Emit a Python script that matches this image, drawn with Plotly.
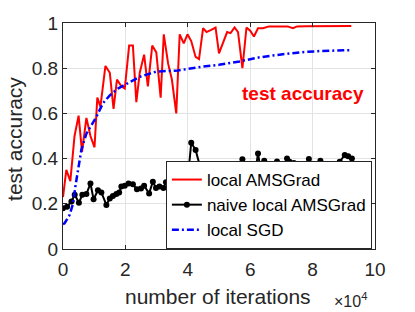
import plotly.graph_objects as go

# x in units of 1e4 iterations
red_x = [0,0.107,0.235,0.37,0.5,0.61,0.75,0.88,1.01,1.1,1.2,1.36,1.5,1.62,1.73,1.87,1.98,2.12,2.24,2.35,2.46,2.6,2.72,2.86,2.99,3.13,3.23,3.37,3.49,3.63,3.74,3.87,3.99,4.11,4.25,4.36,4.49,4.6,4.75,4.89,5.0,5.13,5.26,5.37,5.5,5.61,5.66,5.75,5.82,5.88,6.0,6.12,6.25,6.41,6.6,6.8,7.0,7.2,7.37,7.5,7.8,8.0,8.3,8.6,8.9,9.24]
red_y = [0.23,0.35,0.30,0.50,0.59,0.43,0.58,0.50,0.45,0.67,0.63,0.81,0.78,0.62,0.75,0.72,0.71,0.90,0.90,0.65,0.78,0.86,0.72,0.90,0.87,0.67,0.95,0.82,0.75,0.60,0.95,0.91,0.95,0.92,0.85,0.84,0.977,0.96,0.97,0.98,0.866,0.91,0.96,0.955,0.98,0.96,0.895,0.80,0.895,0.98,0.966,0.94,0.977,0.977,0.985,0.985,0.985,0.985,0.977,0.985,0.986,0.986,0.987,0.987,0.987,0.987]

black_x = [0,0.13,0.27,0.375,0.51,0.62,0.75,0.88,0.98,1.12,1.23,1.39,1.5,1.6,1.71,1.8,1.87,1.98,2.1,2.24,2.37,2.5,2.6,2.76,2.88,2.98,3.09,3.22,3.3,
           3.47,3.58,3.7,3.85,3.98,4.11,4.25,4.38,4.52,4.65,4.76,4.86,4.97,5.08,5.18,5.28,5.38,5.48,5.6,5.75,5.86,5.96,6.1,6.25,6.36,6.45,6.55,6.7,6.86,6.98,7.08,7.18,7.26,7.4,7.52,7.64,7.78,7.88,8.01,8.13,8.25,8.4,8.55,8.7,8.76,8.87,9.03,9.14,9.26]
black_y = [0.18,0.187,0.21,0.24,0.205,0.24,0.243,0.29,0.22,0.26,0.25,0.195,0.224,0.235,0.243,0.25,0.276,0.28,0.29,0.286,0.264,0.268,0.28,0.246,0.298,0.27,0.277,0.27,0.295,
           0.313,0.317,0.29,0.27,0.28,0.47,0.438,0.367,0.30,0.345,0.364,0.36,0.335,0.355,0.30,0.357,0.364,0.335,0.29,0.397,0.33,0.30,0.28,0.423,0.33,0.39,0.28,0.30,0.387,0.28,0.30,0.40,0.386,0.38,0.33,0.372,0.34,0.398,0.335,0.28,0.39,0.28,0.27,0.30,0.357,0.386,0.416,0.41,0.40]

blue_x = [0,0.05,0.21,0.32,0.40,0.48,0.59,0.75,0.91,1.07,1.28,1.5,1.76,2.14,2.46,2.99,3.69,4.49,5.0,5.66,6.3,6.94,7.59,8.23,9.24]
blue_y = [0.11,0.114,0.15,0.20,0.28,0.35,0.44,0.51,0.545,0.585,0.645,0.68,0.71,0.74,0.762,0.785,0.79,0.807,0.815,0.83,0.848,0.86,0.87,0.876,0.88]

x_ticks = [0, 2, 4, 6, 8, 10]
y_ticks = [0, 0.2, 0.4, 0.6, 0.8, 1]
y_ticklabels = ["0", "0.2", "0.4", "0.6", "0.8", "1"]

FONT = "Liberation Sans, Arial, Helvetica, sans-serif"
AX = "#262626"

fig = go.Figure()
fig.add_trace(go.Scatter(x=red_x, y=red_y, mode="lines", name="local AMSGrad",
                         line=dict(color="#ff0000", width=2)))
fig.add_trace(go.Scatter(x=black_x, y=black_y, mode="lines+markers", name="naive local AMSGrad",
                         line=dict(color="#000000", width=2),
                         marker=dict(color="#000000", size=6)))
fig.add_trace(go.Scatter(x=blue_x, y=blue_y, mode="lines", name="local SGD",
                         line=dict(color="#0000ff", width=2.5, dash="7px,3px,2px,3px")))

axis_common = dict(showgrid=True, gridcolor="#e3e3e3", gridwidth=1,
                   showline=True, linecolor=AX, linewidth=1, mirror="ticks",
                   ticks="inside", ticklen=4, tickcolor=AX, zeroline=False,
                   tickfont=dict(family=FONT, size=19, color=AX))

fig.update_layout(
    width=415, height=312,
    margin=dict(l=63, r=40, t=23, b=63),
    paper_bgcolor="white", plot_bgcolor="white",
    font=dict(family=FONT, color=AX),
    xaxis=dict(range=[0, 10], tickvals=x_ticks, ticktext=[str(t) for t in x_ticks],
               ticklabelstandoff=3, **axis_common),
    yaxis=dict(range=[0, 1], tickvals=y_ticks, ticktext=y_ticklabels, **axis_common),
    legend=dict(x=0.99, y=0.0, xanchor="right", yanchor="bottom",
                bgcolor="white", bordercolor=AX, borderwidth=1,
                font=dict(family=FONT, size=17, color="#000000"),
                itemwidth=30, tracegroupgap=0),
    showlegend=True,
)

fig.add_annotation(text="test accuracy", xref="paper", yref="paper",
                   x=-0.154, y=0.487, xanchor="center", yanchor="middle",
                   textangle=-90, showarrow=False,
                   font=dict(family=FONT, size=21, color=AX))
fig.add_annotation(text="number of iterations", xref="paper", yref="paper",
                   x=0.498, y=-0.212, xanchor="center", yanchor="middle", showarrow=False,
                   font=dict(family=FONT, size=21, color=AX))
fig.add_annotation(text="×10<sup>4</sup>", xref="paper", yref="paper",
                   x=0.923, y=-0.226, xanchor="center", yanchor="middle", showarrow=False,
                   font=dict(family=FONT, size=16, color=AX))
fig.add_annotation(text="<b>test accuracy</b>", xref="x", yref="y",
                   x=7.69, y=0.69, xanchor="center", yanchor="middle", showarrow=False,
                   font=dict(family=FONT, size=19, color="#ff0000"))

fig.write_html("out.html", config={"responsive": False, "displayModeBar": False},
               post_script="document.body.style.margin='0';document.documentElement.style.overflow='hidden';")
